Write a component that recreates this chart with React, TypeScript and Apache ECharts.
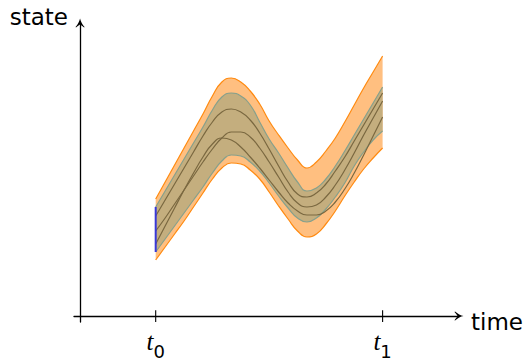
import React, { useEffect, useRef } from "react";
import * as echarts from "echarts";

// time grid (t0 = 1, t1 = 4), step 0.125
const timePoints = [
  1, 1.125, 1.25, 1.375, 1.5, 1.625, 1.75, 1.875, 2, 2.125, 2.25, 2.375, 2.5,
  2.625, 2.75, 2.875, 3, 3.125, 3.25, 3.375, 3.5, 3.625, 3.75, 3.875, 4,
];

// outer envelope
const outerUpper = [
  12.3, 14.0, 15.7, 17.4, 19.1, 20.8, 22.6, 24.0, 24.4, 24.0, 23.1, 21.8, 20.1,
  18.7, 17.4, 16.2, 15.4, 16.0, 17.1, 18.4, 20.0, 21.7, 23.4, 25.0, 26.6,
];
const outerLower = [
  6.2, 7.5, 8.8, 10.1, 11.5, 12.9, 14.3, 15.4, 15.9, 15.8, 15.2, 14.3, 13.0,
  11.6, 10.3, 9.1, 8.5, 8.8, 9.8, 11.1, 12.6, 14.0, 15.3, 16.4, 17.4,
];

// inner envelope
const innerUpper = [
  11.5, 13.1, 14.7, 16.3, 17.9, 19.5, 21.2, 22.5, 22.9, 22.6, 21.7, 20.0, 18.3,
  16.9, 15.4, 14.0, 13.1, 13.4, 14.3, 15.6, 17.1, 18.7, 20.3, 21.9, 23.5,
];
const innerLower = [
  7.0, 8.3, 9.6, 10.9, 12.2, 13.5, 14.9, 16.1, 16.7, 16.6, 16.0, 15.1, 13.9,
  12.6, 11.4, 10.4, 10.0, 10.4, 11.3, 12.5, 13.9, 15.6, 17.0, 18.2, 19.1,
];

// sample trajectories
const trajectoryA = [
  10.6, 12.2, 13.8, 15.4, 17.0, 18.6, 20.0, 21.0, 21.3, 21.0, 20.2, 18.9, 17.3,
  15.6, 14.0, 12.8, 12.5, 12.9, 13.8, 15.1, 16.5, 18.1, 19.7, 21.3, 22.9,
];
const trajectoryB = [
  9.1, 10.4, 11.8, 13.2, 14.6, 16.0, 17.3, 18.4, 19.0, 19.0, 18.5, 17.4, 16.0,
  14.5, 13.0, 11.9, 11.5, 11.7, 12.5, 13.7, 15.2, 16.9, 18.7, 20.4, 22.1,
];
const trajectoryC = [
  7.8, 9.6, 11.4, 13.2, 14.9, 16.5, 17.8, 18.4, 18.2, 17.5, 16.5, 15.4, 14.2,
  13.0, 11.9, 11.1, 10.7, 10.7, 11.1, 12.0, 13.3, 14.9, 16.7, 18.6, 20.5,
];

// initial set at t0
const initialRange = [7.0, 11.5];

// axis ticks
const tickTimes = [1, 4];
const tickSubscripts = ["0", "1"];

const xAxisName = "time";
const yAxisName = "state";

const PEACH = "#FFBF80";
const ORANGE = "#FF8A10";
const TAN = "#C4AE7E";
const GREENISH = "#86A08C";
const BROWN = "#7A6840";
const BLUE = "#3838D8";

const ARROW =
  "path://M5,0 C5.6,3 7.4,6.6 10,9.4 L9.5,10 C7.6,8.2 6.2,7.2 5,6.6 C3.8,7.2 2.4,8.2 0.5,10 L0,9.4 C2.6,6.6 4.4,3 5,0 Z";

// main axes frame
const GRID_LEFT = 74;
const GRID_TOP = 23;
const GRID_W = 385;
const GRID_H = 305;
const X_MIN = -0.08;
const X_MAX = 5.01;
const Y_MIN = -0.6;
const Y_MAX = 29.9;

const SMOOTH = 0.5;

export default function App() {
  const ref = useRef<HTMLDivElement>(null);

  useEffect(() => {
    if (!ref.current) return;
    const chart = echarts.init(ref.current, undefined, { renderer: "svg" });

    const pxPerUnit = GRID_W / (X_MAX - X_MIN);
    const t0 = timePoints[0];
    const t1 = timePoints[timePoints.length - 1];
    const bandLeft = GRID_LEFT + (t0 - X_MIN) * pxPerUnit;
    const bandWidth = (t1 - t0) * pxPerUnit;

    const common = {
      type: "line",
      xAxisIndex: 1,
      yAxisIndex: 1,
      smooth: SMOOTH,
      showSymbol: false,
      symbol: "none",
      silent: true,
    };

    const diff = (up: number[], lo: number[]) => up.map((v, i) => +(v - lo[i]).toFixed(2));

    const tickSeries = tickTimes.map((t, i) => ({
      name: "tick" + i,
      type: "line",
      xAxisIndex: 0,
      yAxisIndex: 0,
      data: [
        [t, -0.6],
        [t, 0.6],
      ],
      showSymbol: false,
      symbol: "none",
      silent: true,
      lineStyle: { color: "#000", width: 1.1 },
      z: 12,
    }));

    const option: any = {
      animation: false,
      grid: [
        { left: GRID_LEFT, top: GRID_TOP, width: GRID_W, height: GRID_H },
        { left: bandLeft, top: GRID_TOP, width: bandWidth, height: GRID_H },
      ],
      xAxis: [
        {
          gridIndex: 0,
          type: "value",
          min: X_MIN,
          max: X_MAX,
          z: 10,
          axisLine: {
            onZero: true,
            symbol: ["none", ARROW],
            symbolSize: [9, 11],
            lineStyle: { color: "#000", width: 1.3 },
          },
          axisTick: { show: false },
          splitLine: { show: false },
          axisLabel: {
            customValues: tickTimes,
            margin: 7,
            formatter: (v: number) => {
              const idx = tickTimes.indexOf(v);
              return "{t|t}{s|" + (idx >= 0 ? tickSubscripts[idx] : "") + "}";
            },
            rich: {
              t: {
                fontFamily: "Liberation Serif",
                fontStyle: "italic",
                fontSize: 25,
                color: "#000",
                verticalAlign: "bottom",
                padding: [0, 0, 6, 0],
              },
              s: {
                fontFamily: "DejaVu Sans",
                fontSize: 18,
                color: "#000",
                verticalAlign: "bottom",
              },
            },
          },
        },
        {
          gridIndex: 1,
          type: "category",
          data: timePoints.map(String),
          boundaryGap: false,
          show: false,
        },
      ],
      yAxis: [
        {
          gridIndex: 0,
          type: "value",
          min: Y_MIN,
          max: Y_MAX,
          z: 10,
          axisLine: {
            onZero: true,
            symbol: ["none", ARROW],
            symbolSize: [9, 11],
            lineStyle: { color: "#000", width: 1.3 },
          },
          axisTick: { show: false },
          axisLabel: { show: false },
          splitLine: { show: false },
        },
        {
          gridIndex: 1,
          type: "value",
          min: Y_MIN,
          max: Y_MAX,
          show: false,
          splitLine: { show: false },
        },
      ],
      graphic: [
        {
          type: "text",
          x: 68,
          y: 17,
          style: {
            text: yAxisName,
            fontFamily: "DejaVu Sans",
            fontSize: 23,
            fill: "#000",
            align: "right",
            verticalAlign: "middle",
            textAlign: "right",
            textVerticalAlign: "middle",
          },
        },
        {
          type: "text",
          x: 471,
          y: 322,
          style: {
            text: xAxisName,
            fontFamily: "DejaVu Sans",
            fontSize: 23,
            fill: "#000",
            align: "left",
            verticalAlign: "middle",
            textAlign: "left",
            textVerticalAlign: "middle",
          },
        },
      ],
      series: [
        {
          ...common,
          name: "outerLower",
          stack: "outer",
          data: outerLower,
          lineStyle: { color: ORANGE, width: 1.2 },
          z: 3,
        },
        {
          ...common,
          name: "outerBand",
          stack: "outer",
          data: diff(outerUpper, outerLower),
          lineStyle: { color: ORANGE, width: 1.2 },
          areaStyle: { color: PEACH, opacity: 1 },
          z: 2,
        },
        {
          ...common,
          name: "innerLower",
          stack: "inner",
          data: innerLower,
          lineStyle: { color: GREENISH, width: 1.2 },
          z: 5,
        },
        {
          ...common,
          name: "innerBand",
          stack: "inner",
          data: diff(innerUpper, innerLower),
          lineStyle: { color: GREENISH, width: 1.2 },
          areaStyle: { color: TAN, opacity: 1 },
          z: 4,
        },
        { ...common, name: "A", data: trajectoryA, lineStyle: { color: BROWN, width: 1.2 }, z: 6 },
        { ...common, name: "B", data: trajectoryB, lineStyle: { color: BROWN, width: 1.2 }, z: 6 },
        { ...common, name: "C", data: trajectoryC, lineStyle: { color: BROWN, width: 1.2 }, z: 6 },
        {
          ...common,
          name: "initial",
          smooth: false,
          data: [
            [0, initialRange[0]],
            [0, initialRange[1]],
          ],
          lineStyle: { color: BLUE, width: 2 },
          z: 7,
        },
        ...tickSeries,
      ],
    };

    chart.setOption(option);
    return () => chart.dispose();
  }, []);

  return (
    <div
      ref={ref}
      style={{ position: "fixed", left: 0, top: 0, width: 525, height: 360, background: "#fff" }}
    />
  );
}
